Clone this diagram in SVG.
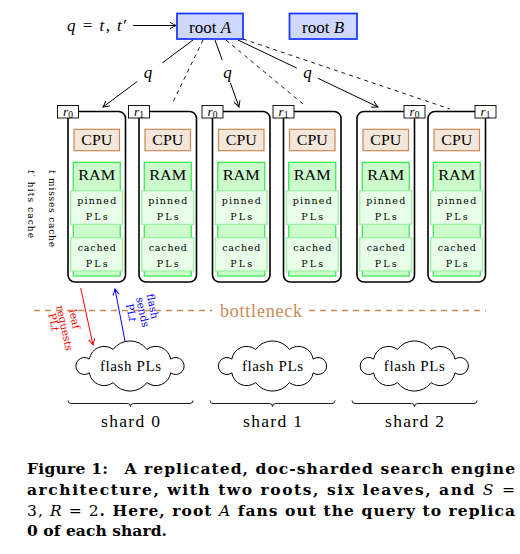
<svg xmlns="http://www.w3.org/2000/svg" width="520" height="554" viewBox="0 0 520 554">
<style>
text{font-family:"Liberation Serif","Times New Roman",serif;fill:#000}
.leaf{fill:#fff;stroke:#000;stroke-width:1.6}
.lab{fill:#fff;stroke:#000;stroke-width:0.9}
.lt{font-size:13px;text-anchor:middle}
.cpu{fill:#f3e6da;stroke:#c98a55;stroke-width:1.2}
.ram{fill:#ccfccc;stroke:#2ee84a;stroke-width:1.2}
.pl{fill:#e8ffe8;stroke:#98ef9e;stroke-width:1.2}
.big{font-size:15px;text-anchor:middle}
.sm{font-family:"DejaVu Serif","Liberation Serif",serif;font-size:9.5px;text-anchor:middle}
.root{fill:#cfd8ff;stroke:#1e3cff;stroke-width:1.8}
.rt{font-size:17px;text-anchor:middle}
.q{font-size:17px;font-style:italic;text-anchor:middle}
.ln{stroke:#000;stroke-width:1;fill:none}
.dash{stroke:#000;stroke-width:0.9;fill:none;stroke-dasharray:4 4}
.cloud{fill:#fff;stroke:#000;stroke-width:1}
.brace{fill:none;stroke:#000;stroke-width:0.9}
.cap{font-family:"DejaVu Serif","Liberation Serif",serif;font-size:15.5px;font-weight:bold}
.rot{font-family:"DejaVu Serif","Liberation Serif",serif;font-size:9px}
.al{font-family:"DejaVu Serif","Liberation Serif",serif;font-size:10.5px;text-anchor:middle;dominant-baseline:central}
</style>
<defs>
<marker id="ak" markerUnits="userSpaceOnUse" markerWidth="10" markerHeight="10" refX="0" refY="0" viewBox="-8 -5 10 10" orient="auto" overflow="visible">
<path d="M-6,-3.2 Q-2,-0.8 0,0 Q-2,0.8 -6,3.2" fill="none" stroke="#000" stroke-width="1"/>
</marker>
<marker id="ar" markerUnits="userSpaceOnUse" markerWidth="10" markerHeight="10" refX="0" refY="0" viewBox="-8 -5 10 10" orient="auto" overflow="visible">
<path d="M-6,-3.2 Q-2,-0.8 0,0 Q-2,0.8 -6,3.2" fill="none" stroke="#ff0000" stroke-width="1"/>
</marker>
<marker id="ab" markerUnits="userSpaceOnUse" markerWidth="10" markerHeight="10" refX="0" refY="0" viewBox="-8 -5 10 10" orient="auto" overflow="visible">
<path d="M-6,-3.2 Q-2,-0.8 0,0 Q-2,0.8 -6,3.2" fill="none" stroke="#0000ff" stroke-width="1"/>
</marker>
<path id="cl" d="M40.65,-6.89 A8.5,8.5 0 1 1 40.65,6.89 A15,15 0 0 1 16.84,16.63 A21,21 0 0 1 -16.84,16.63 A15,15 0 0 1 -40.65,6.89 A8.5,8.5 0 1 1 -40.65,-6.89 A15,15 0 0 1 -16.84,-16.63 A21,21 0 0 1 16.84,-16.63 A15,15 0 0 1 40.65,-6.89 Z"/>
<g id="leafbody">
<rect class="leaf" x="0" y="111.5" width="57.5" height="170.5" rx="7"/>
<rect class="cpu" x="6" y="129.3" width="45.5" height="21.4"/>
<text class="big" x="28.75" y="145" textLength="31" lengthAdjust="spacingAndGlyphs">CPU</text>
<rect class="ram" x="5.25" y="162.3" width="47" height="113.7"/>
<text class="big" x="28.75" y="179.5" textLength="37" lengthAdjust="spacingAndGlyphs">RAM</text>
<rect class="pl" x="2.75" y="190.7" width="52" height="33.6"/>
<text class="sm" x="28.75" y="203.5" textLength="39" lengthAdjust="spacing">pinned</text>
<text class="sm" x="28.75" y="220" textLength="22" lengthAdjust="spacing">PLs</text>
<rect class="pl" x="2.75" y="237.7" width="52" height="33.3"/>
<text class="sm" x="28.75" y="250.5" textLength="38" lengthAdjust="spacing">cached</text>
<text class="sm" x="28.75" y="267" textLength="22" lengthAdjust="spacing">PLs</text>
</g>
</defs>

<g id="input">
<text x="67" y="30.5" font-size="17" textLength="60" lengthAdjust="spacing"><tspan font-style="italic">q</tspan> = <tspan font-style="italic">t</tspan>, <tspan font-style="italic">t</tspan>′</text>
</g>

<g id="rootA">
<rect class="root" x="177" y="13.5" width="66" height="25.5"/>
<text class="rt" x="210" y="32.5">root <tspan font-style="italic">A</tspan></text>
</g>
<g id="rootB">
<rect class="root" x="289.5" y="13.5" width="67.5" height="25.5"/>
<text class="rt" x="323" y="32.5">root <tspan font-style="italic">B</tspan></text>
</g>

<g id="leaf-s0-r0">
<use href="#leafbody" x="68"/>
<rect class="lab" x="57.5" y="105.5" width="21" height="12.5"/>
<text class="lt" x="68" y="115.5"><tspan font-style="italic">r</tspan><tspan font-size="9.5" dy="2">0</tspan></text>
</g>
<g id="leaf-s0-r1">
<use href="#leafbody" x="139"/>
<rect class="lab" x="128.5" y="105.5" width="21" height="12.5"/>
<text class="lt" x="139" y="115.5"><tspan font-style="italic">r</tspan><tspan font-size="9.5" dy="2">1</tspan></text>
</g>
<g id="leaf-s1-r0">
<use href="#leafbody" x="212.5"/>
<rect class="lab" x="202" y="105.5" width="21" height="12.5"/>
<text class="lt" x="212.5" y="115.5"><tspan font-style="italic">r</tspan><tspan font-size="9.5" dy="2">0</tspan></text>
</g>
<g id="leaf-s1-r1">
<use href="#leafbody" x="283.5"/>
<rect class="lab" x="273" y="105.5" width="21" height="12.5"/>
<text class="lt" x="283.5" y="115.5"><tspan font-style="italic">r</tspan><tspan font-size="9.5" dy="2">1</tspan></text>
</g>
<g id="leaf-s2-r0">
<use href="#leafbody" x="357"/>
<rect class="lab" x="404" y="105.5" width="21" height="12.5"/>
<text class="lt" x="414.5" y="115.5"><tspan font-style="italic">r</tspan><tspan font-size="9.5" dy="2">0</tspan></text>
</g>
<g id="leaf-s2-r1">
<use href="#leafbody" x="428"/>
<rect class="lab" x="475" y="105.5" width="21" height="12.5"/>
<text class="lt" x="485.5" y="115.5"><tspan font-style="italic">r</tspan><tspan font-size="9.5" dy="2">1</tspan></text>
</g>

<g id="cache-notes">
<text class="rot" transform="translate(48.5,170) rotate(90)" textLength="77" lengthAdjust="spacing"><tspan font-style="italic">t</tspan> misses cache</text>
<text class="rot" transform="translate(28,170) rotate(90)" textLength="68" lengthAdjust="spacing"><tspan font-style="italic">t</tspan>′ hits cache</text>
</g>

<g id="connectors">
<line class="ln" x1="133" y1="25.5" x2="176" y2="25.5" marker-end="url(#ak)"/>
<line class="ln" x1="193" y1="40" x2="162.4" y2="62.8"/>
<line class="ln" x1="137.2" y1="81.5" x2="103" y2="107" marker-end="url(#ak)"/>
<line class="ln" x1="215" y1="40" x2="222.2" y2="60.1"/>
<line class="ln" x1="230.4" y1="82.9" x2="239" y2="107" marker-end="url(#ak)"/>
<line class="ln" x1="238" y1="40" x2="296.8" y2="68.1"/>
<line class="ln" x1="317.8" y1="78.2" x2="378" y2="107" marker-end="url(#ak)"/>
<line class="dash" x1="203" y1="40" x2="172" y2="104"/>
<line class="dash" x1="226" y1="40" x2="303" y2="104"/>
<line class="dash" x1="243" y1="39" x2="450" y2="109"/>
<text class="q" x="148" y="77.5">q</text>
<text class="q" x="227.5" y="77.5">q</text>
<text class="q" x="307.5" y="77.5">q</text>
<line x1="80.7" y1="288" x2="93" y2="345" stroke="#ff0000" stroke-width="1" marker-end="url(#ar)"/>
<line x1="125" y1="341" x2="115" y2="289" stroke="#0000ff" stroke-width="1" marker-end="url(#ab)"/>
</g>

<g id="arrow-labels">
<text class="al" transform="translate(75,319) rotate(78)" style="fill:#ff0000">leaf</text>
<text class="al" transform="translate(65,328) rotate(78)" style="fill:#ff0000">requests</text>
<text class="al" transform="translate(54,322) rotate(78)" style="fill:#ff0000">PL<tspan font-style="italic">t</tspan></text>
<text class="al" transform="translate(153,306) rotate(78)" style="fill:#0000ff">flash</text>
<text class="al" transform="translate(143,312) rotate(78)" style="fill:#0000ff">sends</text>
<text class="al" transform="translate(131.5,312.5) rotate(78)" style="fill:#0000ff">PL<tspan font-style="italic">t</tspan></text>
</g>

<g id="bottleneck">
<line x1="34" y1="310.5" x2="212" y2="310.5" stroke="#c98a55" stroke-width="1.5" stroke-dasharray="6 5"/>
<line x1="309" y1="310.5" x2="486" y2="310.5" stroke="#c98a55" stroke-width="1.5" stroke-dasharray="6 5"/>
<text x="261" y="316.5" font-size="18" text-anchor="middle" style="fill:#c98a55" textLength="82" lengthAdjust="spacing">bottleneck</text>
</g>

<g id="flash-0">
<use href="#cl" class="cloud" transform="translate(130,366)"/>
<text x="130.5" y="371" font-size="15" text-anchor="middle" textLength="61" lengthAdjust="spacing">flash PLs</text>
</g>
<g id="flash-1">
<use href="#cl" class="cloud" transform="translate(272.5,366)"/>
<text x="272.5" y="371" font-size="15" text-anchor="middle" textLength="61" lengthAdjust="spacing">flash PLs</text>
</g>
<g id="flash-2">
<use href="#cl" class="cloud" transform="translate(414.3,366)"/>
<text x="414.3" y="371" font-size="15" text-anchor="middle" textLength="61" lengthAdjust="spacing">flash PLs</text>
</g>

<g id="shard-0">
<path class="brace" d="M68,400.5 q0,3 3,3 L127.5,403.5 q3,0 3,3 q0,-3 3,-3 L190,403.5 q3,0 3,-3"/>
<text x="130.5" y="427" font-size="17.5" text-anchor="middle" textLength="59" lengthAdjust="spacing">shard 0</text>
</g>
<g id="shard-1">
<path class="brace" d="M210,400.5 q0,3 3,3 L269.5,403.5 q3,0 3,3 q0,-3 3,-3 L332,403.5 q3,0 3,-3"/>
<text x="272.5" y="427" font-size="17.5" text-anchor="middle" textLength="59" lengthAdjust="spacing">shard 1</text>
</g>
<g id="shard-2">
<path class="brace" d="M352,400.5 q0,3 3,3 L411.5,403.5 q3,0 3,3 q0,-3 3,-3 L474,403.5 q3,0 3,-3"/>
<text x="414.5" y="427" font-size="17.5" text-anchor="middle" textLength="59" lengthAdjust="spacing">shard 2</text>
</g>

<g id="caption">
<text class="cap" x="27" y="474" textLength="81" lengthAdjust="spacing">Figure 1:</text>
<text class="cap" x="124.5" y="474" textLength="390.5" lengthAdjust="spacing">A replicated, doc-sharded search engine</text>
<text class="cap" x="27" y="495" textLength="488" lengthAdjust="spacing">architecture, with two roots, six leaves, and <tspan font-style="italic" font-weight="normal">S</tspan> <tspan font-weight="normal">=</tspan></text>
<text class="cap" x="27" y="515.5" textLength="488" lengthAdjust="spacing"><tspan font-weight="normal">3, </tspan><tspan font-weight="normal" font-style="italic">R</tspan><tspan font-weight="normal"> = 2</tspan>. Here, root <tspan font-weight="normal" font-style="italic">A</tspan> fans out the query to replica</text>
<text class="cap" x="27" y="536" textLength="140" lengthAdjust="spacing">0 of each shard.</text>
</g>
</svg>
